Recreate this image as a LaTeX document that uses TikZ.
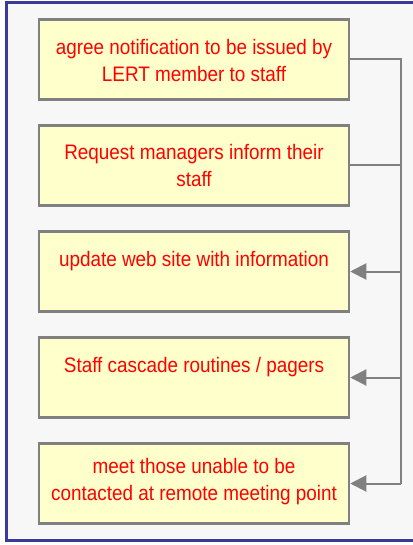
\documentclass[tikz,border=0pt]{standalone}
\usepackage{fontspec}
\setmainfont{Liberation Sans}[FakeStretch=0.9]
\usetikzlibrary{arrows.meta}
\definecolor{framec}{HTML}{3A3A98}
\definecolor{bgc}{HTML}{F7F7F7}
\definecolor{boxfill}{HTML}{FFFFCC}
\definecolor{linec}{HTML}{808080}
\definecolor{txtc}{HTML}{FF0000}
\tikzset{
  stepbox/.style={draw=linec, line width=2.5pt, fill=boxfill, rectangle,
    minimum width=310pt, minimum height=80pt, inner sep=0pt},
  steptext/.style={text=txtc, font=\fontsize{21}{27}\selectfont, align=center,
    inner sep=0pt, anchor=north},
  conn/.style={draw=linec, line width=2pt},
  arr/.style={conn, -{Triangle[length=16pt,width=16pt]}}
}
\begin{document}
\begin{tikzpicture}[x=1pt,y=-1pt]
\useasboundingbox (0,0) rectangle (412,545);
\fill[white] (0,0) rectangle (412,545);
\draw[framec, line width=2.5pt, fill=bgc] (6.5,2.5) rectangle (416,540.5);
\node[stepbox] (b1) at (194,59.5) {};
\node[stepbox] (b2) at (194,165.5) {};
\node[stepbox] (b3) at (194,271.5) {};
\node[stepbox] (b4) at (194,377.5) {};
\node[stepbox] (b5) at (194,483.5) {};
\node[steptext] (t1) at (194,39) {agree notification to be issued by\\LERT member to staff};
\node[steptext] (t2) at (194,143.7) {Request managers inform their\\staff};
\node[steptext] (t3) at (194,250.7) {update web site with information};
\node[steptext] (t4) at (194,357) {Staff cascade routines / pagers};
\node[steptext] (t5) at (194,457.7) {meet those unable to be\\contacted at remote meeting point};
\coordinate (spine) at (400.5,0);
\draw[conn] (b1.east) -- (b1.east -| spine) -- (b5.east -| spine);
\draw[arr] (b5.east -| spine) -- (b5.east);
\draw[conn] (b2.east) -- (b2.east -| spine);
\draw[arr] (b3.east -| spine) -- (b3.east);
\draw[arr] (b4.east -| spine) -- (b4.east);
\end{tikzpicture}
\end{document}
